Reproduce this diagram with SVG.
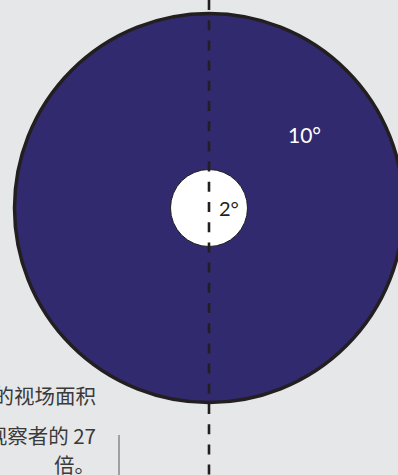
<svg xmlns="http://www.w3.org/2000/svg" width="398" height="475" viewBox="0 0 398 475">
<style>
.cjk{font-family:"Noto Sans CJK SC","Noto Sans",sans-serif;font-size:20.5px;fill:#3a3a3a}
.deg{font-family:"Lato","Noto Sans",sans-serif}
</style>
<rect width="398" height="475" fill="#e6e7e9"/>
<g id="outer">
<circle cx="209" cy="208" r="194.5" fill="#312a6f" stroke="#231f20" stroke-width="3.5"/>
<text class="deg" x="288" y="143" font-size="21" fill="#ffffff">10°</text>
</g>
<g id="inner">
<circle cx="209" cy="208" r="38.5" fill="#ffffff" stroke="#231f20" stroke-width="1"/>
<text class="deg" x="219" y="216" font-size="20" fill="#231f20">2°</text>
</g>
<g id="connectors">
<line x1="209" y1="0" x2="209" y2="475" stroke="#231f20" stroke-width="2.6" stroke-dasharray="10 10.2"/>
<line x1="119" y1="435" x2="119" y2="475" stroke="#888888" stroke-width="1.5"/>
</g>
<g id="caption">
<text class="cjk" x="96" y="404" text-anchor="end">的视场面积</text>
<text class="cjk" x="96" y="444" text-anchor="end">观察者的 27</text>
<text class="cjk" x="95" y="473" text-anchor="end">倍。</text>
</g>
</svg>
